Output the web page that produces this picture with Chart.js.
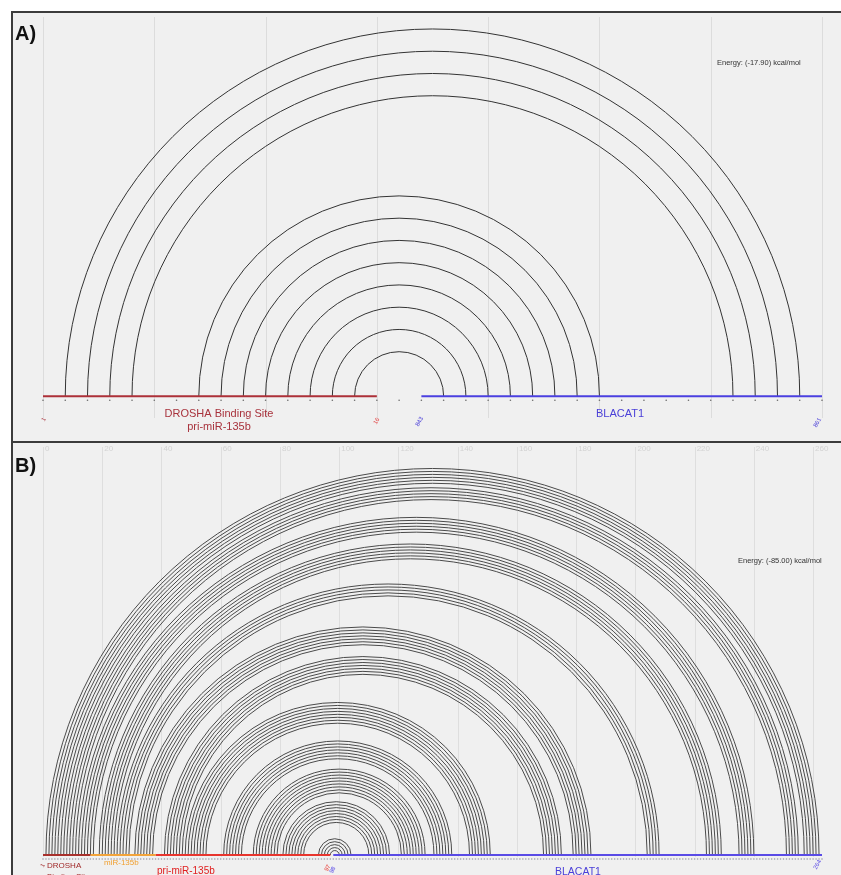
<!DOCTYPE html>
<html>
<head>
<meta charset="utf-8">
<script src="https://cdn.jsdelivr.net/npm/chart.js@4.4.0/dist/chart.umd.min.js"></script>
<style>
  html, body { margin: 0; padding: 0; background: #ffffff; }
  body { width: 841px; height: 875px; position: relative; overflow: hidden; }
  .panel { position: absolute; background: #f0f0f0; border-top: 2px solid #3c3c3c; border-left: 2px solid #3c3c3c; box-sizing: border-box; overflow: hidden; }
  #pa { left: 11px; top: 11px; width: 830px; height: 432px; }
  #pb { left: 11px; top: 441px; width: 830px; height: 434px; }
  .panel canvas { position: absolute; left: 0; top: 0; }
</style>
</head>
<body>
<div class="panel" id="pa"><canvas id="chartA" width="828" height="430"></canvas></div>
<div class="panel" id="pb"><canvas id="chartB" width="828" height="432"></canvas></div>
<script>
// ---------- Panel A: DROSHA binding site (pri-miR-135b) x BLACAT1 ----------
const seqLengthA = 36;                       // nucleotide slots, 0-based
const gridA = [0, 5, 10, 15, 20, 25, 30, 35];
const pairLeftA  = [1, 2, 3, 4, 7, 8, 9, 10, 11, 12, 13, 14];
const pairRightA = [34, 33, 32, 31, 25, 24, 23, 22, 21, 20, 19, 18];
const segStartA = [0, 17];
const segEndA   = [15, 35];
const energyA = 'Energy: (-17.90) kcal/mol';

// ---------- Panel B: pri-miR-135b x BLACAT1 ----------
const seqLengthB = 264;
const gridB = [0, 20, 40, 60, 80, 100, 120, 140, 160, 180, 200, 220, 240, 260];
const gridLabelsB = ['0', '20', '40', '60', '80', '100', '120', '140', '160', '180', '200', '220', '240', '260'];
const pairLeftB = [
  1, 2, 3, 4, 5, 6,
  7, 8, 9, 10, 11,
  12, 13, 14, 15, 16, 17,
  19, 20, 21, 22, 23, 24,
  25, 26, 27, 28, 29,
  31, 32, 33, 34, 35, 36, 37,
  41, 42, 43, 44, 45, 46, 47,
  48, 49, 50, 51, 52, 53, 54, 55,
  61, 62, 63, 64, 65, 66, 67,
  71, 72, 73, 74, 75, 76, 77, 78, 79,
  81, 82, 83, 84, 85, 86, 87, 88,
  93, 94, 95, 96, 97
];
const pairRightB = [
  262, 261, 260, 259, 258, 257,
  255, 254, 253, 252, 251,
  240, 239, 238, 237, 236, 235,
  229, 228, 227, 226, 225, 224,
  208, 207, 206, 205, 204,
  185, 184, 183, 182, 181, 180, 179,
  175, 174, 173, 172, 171, 170, 169,
  151, 150, 149, 148, 147, 146, 145, 144,
  138, 137, 136, 135, 134, 133, 132,
  129, 128, 127, 126, 125, 124, 123, 122, 121,
  117, 116, 115, 114, 113, 112, 111, 110,
  104, 103, 102, 101, 100
];
const segStartB = [0, 16, 38, 98];
const segEndB   = [16, 38, 97, 263];
const energyB = 'Energy: (-85.00) kcal/mol';

// ---------- styling ----------
const segColorsA = ['#ad3038', '#4b40e0'];
const segColorsB = ['#a8302c', '#f2a33a', '#e8352e', '#5a4be6'];
const FONT = 'Arial, "Liberation Sans", sans-serif';

function range(n) { const a = []; for (let i = 0; i < n; i++) a.push(i); return a; }

function baselineSets(starts, ends, colors) {
  return starts.map((s, k) => ({
    type: 'line',
    data: [{ x: s, y: 0 }, { x: ends[k], y: 0 }],
    borderColor: colors[k],
    borderWidth: 2,
    pointRadius: 0,
    clip: false,
    order: 1
  }));
}

function dotSet(n, color, yOff) {
  return {
    type: 'scatter',
    data: range(n).map(i => ({ x: i, y: yOff })),
    pointRadius: 0.8,
    pointBorderWidth: 0,
    backgroundColor: color,
    clip: false,
    order: 2
  };
}

function arcPlugin(cfg) {
  return {
    id: 'arcDiagram',
    beforeDatasetsDraw(chart) {
      const { ctx, chartArea, scales: { x, y } } = chart;
      ctx.save();
      ctx.strokeStyle = cfg.gridColor;
      ctx.lineWidth = 1;
      cfg.grid.forEach(v => {
        const px = Math.round(x.getPixelForValue(v)) + 0.5;
        ctx.beginPath();
        ctx.moveTo(px, chartArea.top);
        ctx.lineTo(px, chartArea.bottom);
        ctx.stroke();
      });
      if (cfg.gridLabels) {
        ctx.fillStyle = cfg.gridLabelColor;
        ctx.font = '8px ' + FONT;
        ctx.textAlign = 'left';
        ctx.textBaseline = 'middle';
        cfg.grid.forEach((v, k) => ctx.fillText(cfg.gridLabels[k], x.getPixelForValue(v) + 2, 6));
      }
      const y0 = y.getPixelForValue(0);
      ctx.strokeStyle = cfg.arcColor;
      ctx.lineWidth = cfg.arcWidth;
      cfg.left.forEach((l, k) => {
        const xl = x.getPixelForValue(l);
        const xr = x.getPixelForValue(cfg.right[k]);
        ctx.beginPath();
        ctx.arc((xl + xr) / 2, y0, Math.abs(xr - xl) / 2, Math.PI, 2 * Math.PI);
        ctx.stroke();
      });
      ctx.restore();
    },
    afterDatasetsDraw(chart) {
      const { ctx } = chart;
      cfg.texts.forEach(t => {
        ctx.save();
        ctx.font = t.font;
        ctx.fillStyle = t.color;
        ctx.textAlign = t.align || 'left';
        ctx.textBaseline = t.base || 'middle';
        ctx.translate(t.x, t.y);
        if (t.rot) ctx.rotate(t.rot);
        ctx.fillText(t.text, 0, 0);
        ctx.restore();
      });
    }
  };
}

function makeChart(id, opts) {
  return new Chart(document.getElementById(id), {
    type: 'scatter',
    data: { datasets: opts.datasets },
    options: {
      responsive: false,
      animation: false,
      devicePixelRatio: 1,
      layout: { padding: opts.padding },
      plugins: { legend: { display: false }, tooltip: { enabled: false } },
      scales: {
        x: { type: 'linear', min: opts.xMin, max: opts.xMax, display: false },
        y: { type: 'linear', min: opts.yMin, max: opts.yMax, display: false }
      }
    },
    plugins: [arcPlugin(opts.plugin)]
  });
}

const ROT = -Math.PI / 3;

makeChart('chartA', {
  datasets: [...baselineSets(segStartA, segEndA, segColorsA), dotSet(seqLengthA, '#6a6a6a', -4)],
  padding: { left: 30, right: 19, top: 0, bottom: 25 },
  xMin: 0, xMax: seqLengthA - 1, yMin: -22, yMax: 383,
  plugin: {
    grid: gridA, gridColor: '#dcdcdc',
    left: pairLeftA, right: pairRightA, arcColor: '#333333', arcWidth: 1,
    texts: [
      { text: 'A)', x: 2, y: 27, font: 'bold 20px ' + FONT, color: '#111', base: 'alphabetic' },
      { text: energyA, x: 704, y: 50, font: '7.5px ' + FONT, color: '#333' },
      { text: 'DROSHA Binding Site', x: 206, y: 401, font: '11px ' + FONT, color: '#a8323c', align: 'center' },
      { text: 'pri-miR-135b', x: 206, y: 414, font: '11px ' + FONT, color: '#a8323c', align: 'center' },
      { text: 'BLACAT1', x: 607, y: 401, font: '11px ' + FONT, color: '#4a3fd8', align: 'center' },
      { text: '1', x: 30, y: 408, font: '6px ' + FONT, color: '#a8323c', rot: ROT },
      { text: '16', x: 362, y: 411, font: '6px ' + FONT, color: '#e03a3a', rot: ROT },
      { text: '843', x: 404, y: 413, font: '6px ' + FONT, color: '#4a3fd8', rot: ROT },
      { text: '861', x: 802, y: 414, font: '6px ' + FONT, color: '#4a3fd8', rot: ROT }
    ]
  }
});

makeChart('chartB', {
  datasets: [...baselineSets(segStartB, segEndB, segColorsB), dotSet(seqLengthB, '#9a9aa8', -4)],
  padding: { left: 30, right: 19, top: 0, bottom: 18 },
  xMin: 0, xMax: seqLengthB - 1, yMin: -2, yMax: 412,
  plugin: {
    grid: gridB, gridLabels: gridLabelsB, gridColor: '#dedede', gridLabelColor: '#d2d2d2',
    left: pairLeftB, right: pairRightB, arcColor: '#4a4a4a', arcWidth: 1,
    texts: [
      { text: 'B)', x: 2, y: 29, font: 'bold 20px ' + FONT, color: '#111', base: 'alphabetic' },
      { text: energyB, x: 725, y: 118, font: '7.5px ' + FONT, color: '#333' },
      { text: 'DROSHA', x: 34, y: 423, font: '8px ' + FONT, color: '#a02828' },
      { text: 'Binding Site', x: 34, y: 434, font: '8px ' + FONT, color: '#a02828' },
      { text: 'miR-135b', x: 91, y: 420, font: '8px ' + FONT, color: '#f0a030' },
      { text: 'pri-miR-135b', x: 144, y: 428, font: '10px ' + FONT, color: '#e02020' },
      { text: 'BLACAT1', x: 542, y: 429, font: '10.5px ' + FONT, color: '#4a3fd8' },
      { text: '1', x: 29, y: 424, font: '6px ' + FONT, color: '#a02828', rot: ROT },
      { text: '97', x: 313, y: 428, font: '6px ' + FONT, color: '#e8352e', rot: ROT },
      { text: '98', x: 318, y: 430, font: '6px ' + FONT, color: '#5a4be6', rot: ROT },
      { text: '264', x: 802, y: 426, font: '6px ' + FONT, color: '#5a4be6', rot: ROT }
    ]
  }
});
</script>
</body>
</html>
